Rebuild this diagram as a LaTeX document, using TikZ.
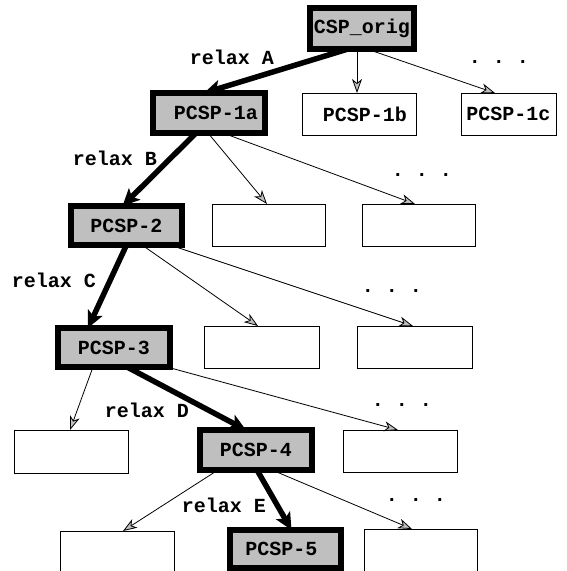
\documentclass[tikz,border=0pt]{standalone}
\usepackage{fontspec}
\setmonofont{Liberation Mono}
\usetikzlibrary{arrows.meta}
\tikzset{
  box/.style={draw, line width=0.9pt, minimum width=113pt, minimum height=42pt,
    inner sep=0pt, outer sep=0pt,
    font=\ttfamily\bfseries\fontsize{20}{22}\selectfont},
  relaxed/.style={box, fill=gray!50, line width=6pt, minimum width=112pt, minimum height=40pt},
  branch/.style={-{Stealth[length=14pt,width=10pt,inset=4pt,fill=gray!50]}, line width=0.8pt},
  chosen/.style={-{Stealth[length=17pt,width=16pt,inset=4pt]}, line width=5.5pt},
  lbl/.style={inner sep=0pt, font=\ttfamily\bfseries\fontsize{20}{22}\selectfont},
}
\begin{document}
\begin{tikzpicture}[x=1pt, y=-1pt]
  \useasboundingbox (0,0) rectangle (566,571);
  \clip (0,0) rectangle (566,571);

  % search tree of relaxed problems
  \node[relaxed, minimum width=104pt, minimum height=41pt] (orig) at (362,28.5) {CSP\_orig};

  \node[relaxed] (p1a) at (209,113) {\hspace*{14pt}PCSP-1a};
  \node[box, minimum width=114pt] (p1b) at (359,114) {\hspace*{12pt}PCSP-1b};
  \node[box, minimum width=95pt] (p1c) at (508.5,114) {PCSP-1c};

  \node[relaxed, minimum width=111pt, minimum height=39pt] (p2) at (126.5,225.5) {PCSP-2};
  \node[box] (e21) at (268.5,225) {};
  \node[box] (e22) at (418.5,225) {};

  \node[relaxed, minimum height=39pt] (p3) at (114,347.5) {PCSP-3};
  \node[box, minimum width=115pt] (e31) at (261.5,347) {};
  \node[box, minimum width=115pt] (e32) at (414.5,347) {};

  \node[box, minimum width=114pt, minimum height=43pt] (e41) at (71,451.5) {};
  \node[relaxed] (p4) at (256,450) {PCSP-4};
  \node[box, minimum width=114pt] (e42) at (400,451) {};

  \node[box, minimum width=114pt] (e51) at (117,552) {};
  \node[relaxed, minimum width=111pt, minimum height=38pt] (p5) at (285.5,549) {\hspace*{-8pt}PCSP-5};
  \node[box] (e53) at (420.5,550) {};

  % connectors
  \draw[chosen] ([xshift=-14pt]orig.south) -- ([xshift=-5pt]p1a.north);
  \draw[branch] ([xshift=-5pt]orig.south) -- ([xshift=-2pt]p1b.north);
  \draw[branch] ([xshift=5pt]orig.south) -- ([xshift=-13.5pt]p1c.north);

  \draw[chosen] ([xshift=-13pt]p1a.south) -- ([xshift=-4pt]p2.north);
  \draw[branch] ([xshift=-1pt]p1a.south) -- ([xshift=-1.5pt]e21.north);
  \draw[branch] ([xshift=14pt]p1a.south) -- ([xshift=-3.5pt]e22.north);

  \draw[chosen] (p2.south) -- ([xshift=-26pt]p3.north);
  \draw[branch] ([xshift=15.5pt]p2.south) -- ([xshift=-3.5pt]e31.north);
  \draw[branch] ([xshift=43.5pt]p2.south) -- ([xshift=-1.5pt]e32.north);

  \draw[branch] ([xshift=-21pt]p3.south) -- ([xshift=-1pt]e41.north);
  \draw[chosen] ([xshift=13pt]p3.south) -- ([xshift=-10pt]p4.north);
  \draw[branch] ([xshift=53pt]p3.south) -- ([xshift=-2pt]e42.north);

  \draw[branch] ([xshift=-38pt]p4.south) -- ([xshift=6pt]e51.north);
  \draw[chosen] ([xshift=1pt]p4.south) -- ([xshift=6pt]p5.north);
  \draw[branch] ([xshift=16pt]p4.south) -- ([xshift=-8.5pt]e53.north);

  % edge labels
  \node[lbl] (la) at (232,57) {relax A};
  \node[lbl] (lb) at (115,158) {relax B};
  \node[lbl] (lc) at (54,280) {relax C};
  \node[lbl] (ld) at (147,410) {relax D};
  \node[lbl] (le) at (224,505) {relax E};

  % elided siblings
  \node[lbl, anchor=base] (d1) at (499,63) {. . .};
  \node[lbl, anchor=base] (d2) at (422,176) {. . .};
  \node[lbl, anchor=base] (d3) at (392,292) {. . .};
  \node[lbl, anchor=base] (d4) at (402,406) {. . .};
  \node[lbl, anchor=base] (d5) at (416,501) {. . .};
\end{tikzpicture}
\end{document}
